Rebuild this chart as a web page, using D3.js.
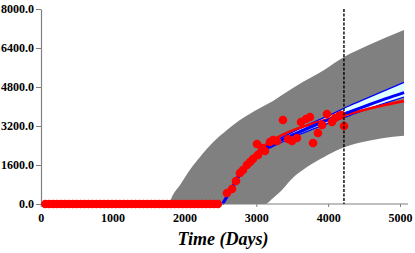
<!DOCTYPE html>
<html><head><meta charset="utf-8">
<script src="https://cdn.jsdelivr.net/npm/d3@7"></script>
<style>
html,body{margin:0;padding:0;background:#fff;}
svg{display:block;}
.tick text{font-family:"Liberation Serif","Times New Roman",serif;font-weight:bold;font-size:12px;fill:#000;}
</style></head>
<body><svg id="c" width="415" height="253"></svg>
<script>
// ---- data ----
const xTicks = [0, 1000, 2000, 3000, 4000, 5000];
const yTicks = [0, 1600, 3200, 4800, 6400, 8000];
const xLabel = "Time (Days)";
const cutoffDay = 4220;

// observed points
const obsDays = [65,119,174,228,283,337,392,447,501,556,610,665,719,774,828,883,938,992,1047,1101,1156,1210,1265,1319,1374,1429,1483,1538,1592,1647,1701,1756,1810,1865,1920,1974,2029,2083,2138,2192,2247,2301,2356,2410,2465,
  2592,2662,2718,2773,2815,2870,2913,2954,3010,3024,3079,3121,3191,3233,3289,3371,3441,3497,3566,3622,3692,3747,3790,3858,3915,3984,4053,4096,4151,4187,4221];
const obsValues = [0,0,0,0,0,0,0,0,0,0,0,0,0,0,0,0,0,0,0,0,0,0,0,0,0,0,0,0,0,0,0,0,0,0,0,0,0,0,0,0,0,0,0,0,0,
  451,615,944,1272,1395,1600,1723,1846,2462,2010,2298,2175,2544,2626,2585,3446,2667,2585,2708,3364,3487,3569,2503,2913,3241,3692,3364,3528,3610,3650,3200];

// prediction interval (gray band)
const bandUpperDays = [1787,1823,1939,2075,2217,2398,2592,2773,3052,3233,3358,3641,3944,4221,4550,4803,5056];
const bandUpper     = [0,270,780,1400,1928,2530,3036,3446,3938,4226,4470,4990,5500,6030,6500,6830,7138];
const bandLowerDays = [1787,3121,3227,3330,3490,3706,3944,4164,4449,4752,5056];
const bandLower     = [0,0,230,492,1020,1518,1930,2256,2520,2700,2800];

// fitted model (blue) with its band, and alternative fit (red)
const fitDays  = [2530,2631,2782,3035,3288,3540,3793,4045,4298,4550,4803,5056];
const blueMid  = [0,480,1250,2100,2530,2880,3200,3500,3780,4050,4320,4575];
const blueUp   = [0,500,1290,2160,2620,3000,3350,3680,4030,4350,4670,4990];
const blueLow  = [0,460,1210,2040,2440,2780,3080,3360,3630,3900,4150,4390];
const redFit   = [0,550,1330,2200,2720,3060,3300,3520,3700,3900,4070,4220];

// ---- chart ----
const svg = d3.select("#c");
const x = d3.scaleLinear().domain([0, 5000]).range([40.7, 400]);
const y = d3.scaleLinear().domain([0, 8000]).range([204, 9]);
const xEnd = 408;

// gray band
const upperPts = bandUpperDays.map((d,i)=>[d, bandUpper[i]]);
const lowerPts = bandLowerDays.map((d,i)=>[d, bandLower[i]]);
const interp = d3.line().curve(d3.curveMonotoneX).x(d=>x(d[0])).y(d=>y(d[1]));
const upPath = interp(upperPts);
const lowPathRev = interp(lowerPts.slice().reverse());
svg.append("path")
  .attr("d", upPath + "L" + lowPathRev.slice(1) + "Z")
  .attr("fill", "#808080").attr("stroke", "none");

// blue band
const blueArea = d3.area().curve(d3.curveMonotoneX)
  .x((d,i)=>x(fitDays[i])).y0((d,i)=>y(blueLow[i])).y1((d,i)=>y(blueUp[i]));
svg.append("path").attr("d", blueArea(fitDays)).attr("fill", "#e0ffff").attr("stroke","none");
const lineGen = arr => d3.line().curve(d3.curveMonotoneX).x((d,i)=>x(fitDays[i])).y((d,i)=>y(arr[i]))(fitDays);
svg.append("path").attr("d", lineGen(blueUp)).attr("fill","none").attr("stroke","#0000ff").attr("stroke-width",1.3);
svg.append("path").attr("d", lineGen(blueLow)).attr("fill","none").attr("stroke","#0000ff").attr("stroke-width",1.3);
svg.append("path").attr("d", lineGen(redFit)).attr("fill","none").attr("stroke","#ff0000").attr("stroke-width",2.6);
svg.append("path").attr("d", lineGen(blueMid)).attr("fill","none").attr("stroke","#0000ff").attr("stroke-width",3);

// axes
const xAxis = d3.axisBottom(x).tickValues(xTicks).tickFormat(d3.format("d")).tickSizeInner(3).tickSizeOuter(0).tickPadding(6);
const gx = svg.append("g").attr("transform", "translate(0,204)").call(xAxis);
gx.select(".domain").attr("d", `M${x(0)},0H${xEnd}`);
const yAxis = d3.axisLeft(y).tickValues(yTicks).tickFormat(d3.format(".1f")).tickSizeInner(5).tickSizeOuter(0).tickPadding(2);
const gy = svg.append("g").attr("transform", "translate(41,0)").call(yAxis);
[gx, gy].forEach(g => { g.selectAll("path,line").attr("stroke", "#808080"); g.select(".domain").attr("stroke-width",1.2); });
gx.selectAll("text").attr("dy", "0.71em");

// observed dots
svg.append("g").selectAll("circle").data(obsDays).join("circle")
  .attr("cx", d=>x(d)).attr("cy", (d,i)=>y(obsValues[i])).attr("r", 4.3).attr("fill", "#ff0000");

// cutoff dashed line
svg.append("line").attr("x1", x(cutoffDay)).attr("x2", x(cutoffDay)).attr("y1", y(8000)).attr("y2", y(0))
  .attr("stroke", "#000").attr("stroke-width", 1.4).attr("stroke-dasharray", "3,1.5");

// axis title
svg.append("text").attr("x", 223).attr("y", 245).attr("text-anchor", "middle")
  .attr("font-family", "'Liberation Serif','Times New Roman',serif").attr("font-weight", "bold").attr("font-style", "italic")
  .attr("font-size", 18).text(xLabel);
</script></body></html>
